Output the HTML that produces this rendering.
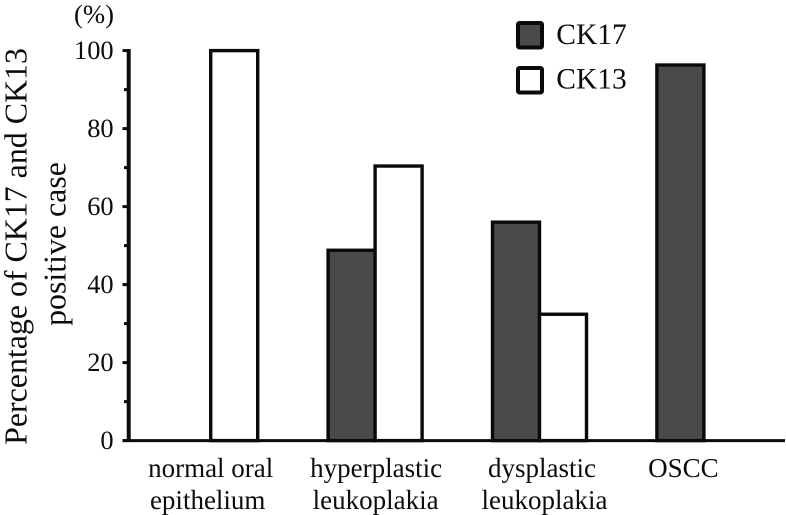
<!DOCTYPE html>
<html lang="en">
<head>
<meta charset="utf-8">
<title>CK17 and CK13 positive cases</title>
<style>
html,body{margin:0;padding:0;background:#fff;width:786px;height:515px;overflow:hidden}
svg{display:block}
text{font-family:"Liberation Serif",serif;fill:#0c0c0c}
</style>
</head>
<body>
<svg id="chart" width="786" height="515" viewBox="0 0 786 515" xmlns="http://www.w3.org/2000/svg">
  <g id="plot"></g>
  <text x="94" y="23" font-size="26.7" text-anchor="middle">(%)</text>
  <text transform="translate(26.7,246.5) rotate(-90)" font-size="31.9" text-anchor="middle">Percentage of CK17 and CK13</text>
  <text transform="translate(65.7,244) rotate(-90)" font-size="31.9" text-anchor="middle">positive case</text>
  <g>
    <rect x="518" y="23" width="24" height="24.5" rx="1.5" fill="#4a4a4a" stroke="#0a0a0a" stroke-width="4"/>
    <text x="556.3" y="44" font-size="29.5">CK17</text>
    <rect x="518" y="68" width="24" height="24.5" rx="1.5" fill="#fff" stroke="#0a0a0a" stroke-width="4"/>
    <text x="556.3" y="88.7" font-size="29.5">CK13</text>
  </g>
</svg>
<script>
const categories = [["normal oral", "epithelium"], ["hyperplastic", "leukoplakia"], ["dysplastic", "leukoplakia"], ["OSCC"]];
const ck17Values = [0, 48.8, 56, 96.3];
const ck13Values = [100, 70.4, 32.4, 0];
const yMajorTicks = [0, 20, 40, 60, 80, 100];
const yMinorTicks = [10, 30, 50, 70, 90];

const SVG_NS = "http://www.w3.org/2000/svg";
const plot = document.getElementById("plot");
const Y0 = 440.6, Y_PER_UNIT = 3.9;
const X0 = 210.7, X_STEP = 164.4, BAR_W = 47;
const yScale = v => Y0 - v * Y_PER_UNIT;
const xScale = i => X0 + i * X_STEP;

function make(tag, attrs, text) {
  const el = document.createElementNS(SVG_NS, tag);
  for (const k in attrs) el.setAttribute(k, attrs[k]);
  if (text !== undefined) el.textContent = text;
  plot.appendChild(el);
  return el;
}

function drawBar(i, value, isLeft, fill, series) {
  const top = yScale(value);
  const el = make("rect", {
    x: isLeft ? xScale(i) - BAR_W : xScale(i),
    y: top,
    width: BAR_W,
    height: Math.max(0, Y0 - top),
    fill: fill,
    stroke: "#0a0a0a",
    "stroke-width": 3.4
  });
  
  
}

ck17Values.forEach((v, i) => drawBar(i, v, true, "#4a4a4a", "ck17"));
ck13Values.forEach((v, i) => drawBar(i, v, false, "#ffffff", "ck13"));

yMinorTicks.forEach(t => {
  const el = make("line", { x1: 124, x2: 129, y1: yScale(t), y2: yScale(t), stroke: "#0a0a0a", "stroke-width": 3 });
  
  
});

yMajorTicks.forEach(t => {
  const tick = make("line", { x1: 122.5, x2: 129, y1: yScale(t), y2: yScale(t), stroke: "#0a0a0a", "stroke-width": 3 });
  
  
  const label = make("text", { x: 113.6, y: yScale(t) + 8.4, "font-size": 26.4, "text-anchor": "end" }, String(t));
  
  
});

const yAxisLine = make("line", { x1: 128.7, x2: 128.7, y1: yScale(100) - 1.5, y2: Y0, stroke: "#0a0a0a", "stroke-width": 4 });



const xAxisLine = make("line", { x1: 122.5, x2: 785, y1: Y0, y2: Y0, stroke: "#0a0a0a", "stroke-width": 3 });



// Hand placement of the category captions relative to each group's centre.
function labelShift(i, j) {
  if (i === 0) return j === 0 ? 0 : -3;
  if (i === 1) return j === 0 ? 1 : 0.5;
  if (i === 2) return j === 0 ? 2.5 : 5;
  return -20.5;
}

categories.forEach((lines, i) => {
  lines.forEach((line, j) => {
    const label = make("text", { x: xScale(i) + labelShift(i, j), y: 476.8 + j * 32.2, "font-size": 27, "text-anchor": "middle" }, line);
    
    
  });
});
</script>
</body>
</html>
